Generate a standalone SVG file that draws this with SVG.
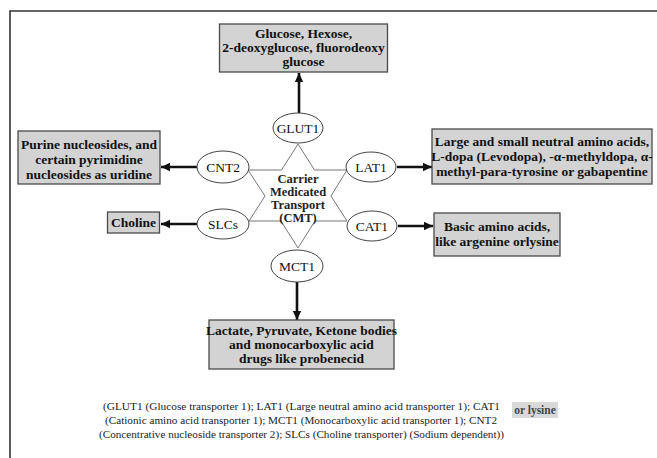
<svg xmlns="http://www.w3.org/2000/svg" width="657" height="458" viewBox="0 0 657 458">
<style>
.box{fill:#d3d3d3;stroke:#4a4a4a;stroke-width:1.3}
.ell{fill:#fff;stroke:#444;stroke-width:1}
.bt{font-family:"Liberation Serif","Times New Roman",serif;font-weight:bold;font-size:13.5px;fill:#111;text-anchor:middle}
.et{font-family:"Liberation Serif","Times New Roman",serif;font-size:13.5px;fill:#111;text-anchor:middle}
.ct{font-family:"Liberation Serif","Times New Roman",serif;font-weight:bold;font-size:12.5px;fill:#222;text-anchor:middle}
.lt{font-family:"Liberation Serif","Times New Roman",serif;font-size:11px;fill:#222}
.arr{stroke:#111;stroke-width:2.6;fill:none;marker-end:url(#ah)}
</style>
<defs>
<marker id="ah" markerUnits="userSpaceOnUse" markerWidth="10" markerHeight="10" refX="9" refY="5" orient="auto">
<path d="M0,0.8 L9,5 L0,9.2 z" fill="#111"/>
</marker>
</defs>
<rect width="657" height="458" fill="#fff"/>
<path d="M10,458 V11 H657" fill="none" stroke="#333" stroke-width="1.6"/>

<g id="star">
<polygon points="298,144 314.5,170 347,170 331,196 347,221 315,221 298,248 281,221 249,221 265,196 248,170 281.5,170" fill="none" stroke="#777" stroke-width="1"/>
<text class="ct" x="298" y="183">Carrier</text>
<text class="ct" x="298" y="196">Medicated</text>
<text class="ct" x="298" y="209">Transport</text>
<text class="ct" x="298" y="222">(CMT)</text>
</g>

<g id="connectors">
<line class="arr" x1="299" y1="113" x2="299" y2="73"/>
<line class="arr" x1="197" y1="167" x2="161" y2="167"/>
<line class="arr" x1="197" y1="224" x2="161" y2="224"/>
<line class="arr" x1="397" y1="167" x2="432" y2="167"/>
<line class="arr" x1="398" y1="226" x2="433" y2="226"/>
<line class="arr" x1="297" y1="282" x2="297" y2="320"/>
</g>

<g id="GLUT1"><ellipse class="ell" cx="298" cy="128" rx="25" ry="15"/><text class="et" x="298" y="133">GLUT1</text></g>
<g id="CNT2"><ellipse class="ell" cx="223" cy="167" rx="26" ry="16"/><text class="et" x="223" y="172">CNT2</text></g>
<g id="SLCs"><ellipse class="ell" cx="223" cy="224" rx="26" ry="15"/><text class="et" x="223" y="229">SLCs</text></g>
<g id="LAT1"><ellipse class="ell" cx="371" cy="167" rx="25" ry="15"/><text class="et" x="371" y="172">LAT1</text></g>
<g id="CAT1"><ellipse class="ell" cx="372" cy="226" rx="25" ry="15"/><text class="et" x="372" y="231">CAT1</text></g>
<g id="MCT1"><ellipse class="ell" cx="297" cy="266" rx="26" ry="16"/><text class="et" x="297" y="271">MCT1</text></g>

<g id="box-glucose"><rect class="box" x="219.5" y="24" width="168" height="48"/>
<text class="bt" x="303.5" y="38">Glucose, Hexose,</text>
<text class="bt" x="303.5" y="52">2-deoxyglucose, fluorodeoxy</text>
<text class="bt" x="303.5" y="66">glucose</text></g>

<g id="box-purine"><rect class="box" x="18" y="131" width="142" height="53"/>
<text class="bt" x="89" y="149">Purine nucleosides, and</text>
<text class="bt" x="89" y="164">certain pyrimidine</text>
<text class="bt" x="89" y="179">nucleosides as uridine</text></g>

<g id="box-choline"><rect class="box" x="107.5" y="212" width="52" height="21"/>
<text class="bt" x="133.5" y="227">Choline</text></g>

<g id="box-lat"><rect class="box" x="432" y="129" width="220" height="55"/>
<text class="bt" x="542" y="146">Large and small neutral amino acids,</text>
<text class="bt" x="542" y="161">L-dopa (Levodopa), -α-methyldopa, α-</text>
<text class="bt" x="542" y="176">methyl-para-tyrosine or gabapentine</text></g>

<g id="box-cat"><rect class="box" x="434" y="213" width="126" height="43"/>
<text class="bt" x="497" y="231">Basic amino acids,</text>
<text class="bt" x="497" y="246">like argenine orlysine</text></g>

<g id="box-mct"><rect class="box" x="209" y="320" width="185" height="49"/>
<text class="bt" x="301.5" y="335">Lactate, Pyruvate, Ketone bodies</text>
<text class="bt" x="301.5" y="349">and monocarboxylic acid</text>
<text class="bt" x="301.5" y="363">drugs like probenecid</text></g>

<g id="legend">
<text class="lt" x="103" y="410" textLength="397" lengthAdjust="spacingAndGlyphs">(GLUT1 (Glucose transporter 1); LAT1 (Large neutral amino acid transporter 1); CAT1</text>
<text class="lt" x="105" y="424" textLength="392" lengthAdjust="spacingAndGlyphs">(Cationic amino acid transporter 1); MCT1 (Monocarboxylic acid transporter 1); CNT2</text>
<text class="lt" x="99" y="438" textLength="405" lengthAdjust="spacingAndGlyphs">(Concentrative nucleoside transporter 2); SLCs (Choline transporter) (Sodium dependent))</text>
<rect x="512" y="402" width="46" height="16" fill="#d9d9d9"/>
<text x="535" y="414" font-family="'Liberation Serif','Times New Roman',serif" font-weight="bold" font-size="11.5" fill="#444" text-anchor="middle">or lysine</text>
</g>
</svg>
